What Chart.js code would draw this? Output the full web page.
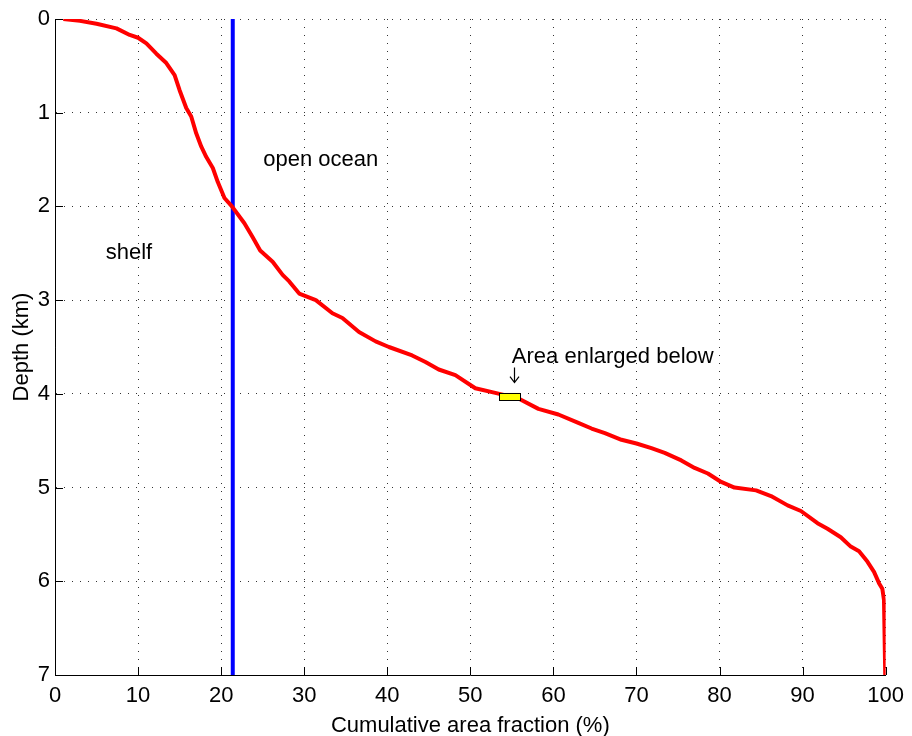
<!DOCTYPE html>
<html>
<head>
<meta charset="utf-8">
<script src="https://cdn.jsdelivr.net/npm/chart.js@4/dist/chart.umd.min.js"></script>
<style>
  html, body { margin: 0; padding: 0; background: #fff; }
  #wrap { width: 912px; height: 736px; }
</style>
</head>
<body>
<div id="wrap"><canvas id="c" width="912" height="736"></canvas></div>
<script>
// Hypsometric curve: cumulative ocean area fraction (%) vs depth (km)
const areaFraction = [1.0, 3.0, 5.0, 7.4, 9.0, 10.0, 11.0, 12.2, 13.4, 14.4, 15.0, 15.8, 16.4, 17.0, 17.6, 18.2, 19.0, 19.6, 20.4, 21.3,
  22.8, 23.8, 24.7, 26.2, 27.4, 28.2, 29.4, 31.4, 33.4, 34.6, 36.6, 38.6, 40.2, 43.0, 44.6, 46.2, 48.2, 50.6, 53.0, 55.8,
  58.2, 60.6, 63.0, 64.6, 66.2, 68.2, 70.0, 71.8, 73.4, 75.4, 77.0, 78.6, 80.2, 81.8, 84.4, 86.2, 88.2, 89.8, 91.8, 93.0,
  94.6, 95.8, 96.8, 97.8, 98.6, 99.2, 99.6, 99.8, 99.95];
const depthKm = [0.0, 0.02, 0.05, 0.10, 0.17, 0.20, 0.26, 0.37, 0.47, 0.60, 0.76, 0.95, 1.04, 1.22, 1.36, 1.47, 1.59, 1.74, 1.91, 2.0,
  2.18, 2.33, 2.47, 2.59, 2.73, 2.80, 2.93, 3.00, 3.14, 3.19, 3.34, 3.44, 3.50, 3.59, 3.66, 3.74, 3.80, 3.94, 3.99, 4.05,
  4.16, 4.22, 4.31, 4.37, 4.42, 4.49, 4.53, 4.58, 4.63, 4.71, 4.79, 4.85, 4.94, 5.00, 5.03, 5.09, 5.19, 5.25, 5.38, 5.44,
  5.53, 5.63, 5.68, 5.79, 5.90, 6.02, 6.08, 6.2, 7.0];

// Shelf / open ocean boundary
const shelfBreakX = [21.4, 21.4];
const shelfBreakY = [0, 7];

// Highlighted box on the curve (x0, x1, y0, y1)
const enlargedBox = [53.5, 56.0, 3.99, 4.07];

// Pointer from the caption down to the box (x, yTop, yBottom)
const pointer = [55.2, 3.72, 3.88];

// Text annotations: [label, x, y, align]
const labels = [
  ['open ocean', 32.0, 1.5, 'center'],
  ['shelf', 8.9, 2.5, 'center'],
  ['Area enlarged below', 55.0, 3.61, 'left']
];

const xTicks = [0, 10, 20, 30, 40, 50, 60, 70, 80, 90, 100];
const yTicks = [0, 1, 2, 3, 4, 5, 6, 7];

const FONT = '"Liberation Sans", Arial, "DejaVu Sans", sans-serif';
const FS = 22;

const curve = areaFraction.map((x, i) => ({ x, y: depthKm[i] }));
const breakLine = shelfBreakX.map((x, i) => ({ x, y: shelfBreakY[i] }));

// Inward tick marks, highlighted box, pointer and text labels
const extras = {
  id: 'extras',
  afterDatasetsDraw(chart) {
    const { ctx, scales: { x, y }, chartArea: a } = chart;
    ctx.save();
    ctx.strokeStyle = '#000';
    ctx.lineWidth = 1;
    ctx.beginPath();
    yTicks.forEach(v => {
      const py = Math.round(y.getPixelForValue(v)) + 0.5;
      ctx.moveTo(a.left, py); ctx.lineTo(a.left + 8, py);
    });
    xTicks.forEach(v => {
      const px = Math.round(x.getPixelForValue(v)) + 0.5;
      ctx.moveTo(px, a.bottom); ctx.lineTo(px, a.bottom - 8);
    });
    ctx.stroke();

    const bx0 = x.getPixelForValue(enlargedBox[0]);
    const bx1 = x.getPixelForValue(enlargedBox[1]);
    const by0 = y.getPixelForValue(enlargedBox[2]);
    const by1 = y.getPixelForValue(enlargedBox[3]);
    ctx.fillStyle = '#ffff00';
    ctx.fillRect(bx0, by0, bx1 - bx0, by1 - by0);
    ctx.strokeStyle = '#000';
    ctx.strokeRect(Math.round(bx0) + 0.5, Math.round(by0) + 0.5, Math.round(bx1 - bx0), Math.round(by1 - by0));

    // down arrow
    const ax = Math.round(x.getPixelForValue(pointer[0])) + 0.5;
    const ay0 = y.getPixelForValue(pointer[1]);
    const ay1 = y.getPixelForValue(pointer[2]);
    ctx.lineWidth = 1.2;
    ctx.beginPath();
    ctx.moveTo(ax, ay0); ctx.lineTo(ax, ay1);
    ctx.moveTo(ax - 4.5, ay1 - 6); ctx.lineTo(ax, ay1); ctx.lineTo(ax + 4.5, ay1 - 6);
    ctx.stroke();

    ctx.fillStyle = '#000';
    ctx.font = FS + 'px ' + FONT;
    ctx.textBaseline = 'middle';
    labels.forEach(([t, lx, ly, al]) => {
      ctx.textAlign = al;
      ctx.fillText(t, x.getPixelForValue(lx), y.getPixelForValue(ly));
    });
    ctx.restore();
  }
};

new Chart(document.getElementById('c'), {
  type: 'scatter',
  data: {
    datasets: [
      {
        data: curve,
        showLine: true,
        borderColor: '#ff0000',
        borderWidth: 4,
        pointRadius: 0,
        borderJoinStyle: 'round',
        tension: 0
      },
      {
        data: breakLine,
        showLine: true,
        borderColor: '#0000ff',
        borderWidth: 4,
        pointRadius: 0
      }
    ]
  },
  options: {
    responsive: false,
    animation: false,
    layout: { padding: { top: 19, right: 24, left: 0, bottom: 0 } },
    plugins: { legend: { display: false }, tooltip: { enabled: false } },
    scales: {
      x: {
        type: 'linear',
        min: 0, max: 100,
        afterBuildTicks: s => { s.ticks = xTicks.map(v => ({ value: v })); },
        afterFit: s => { s.height = 61; },
        ticks: { color: '#000', font: { size: FS, family: FONT }, padding: 8, maxRotation: 0 },
        grid: { color: '#333', lineWidth: 1, drawTicks: false },
        border: { display: true, color: '#000', width: 1, dash: [1, 7] },
        title: { display: true, text: 'Cumulative area fraction (%)', color: '#000', font: { size: FS, family: FONT, lineHeight: 0.9 }, padding: { top: 0, bottom: 0 } }
      },
      y: {
        type: 'linear',
        reverse: true,
        min: 0, max: 7,
        afterBuildTicks: s => { s.ticks = yTicks.map(v => ({ value: v })); },
        afterFit: s => { s.width = 55; },
        ticks: { color: '#000', font: { size: FS, family: FONT }, padding: 5 },
        grid: { color: '#333', lineWidth: 1, drawTicks: false },
        border: { display: true, color: '#000', width: 1, dash: [1, 7] },
        title: { display: true, text: 'Depth (km)', color: '#000', font: { size: FS, family: FONT }, padding: { top: 9, bottom: 0 } }
      }
    }
  },
  plugins: [extras]
});
</script>
</body>
</html>
